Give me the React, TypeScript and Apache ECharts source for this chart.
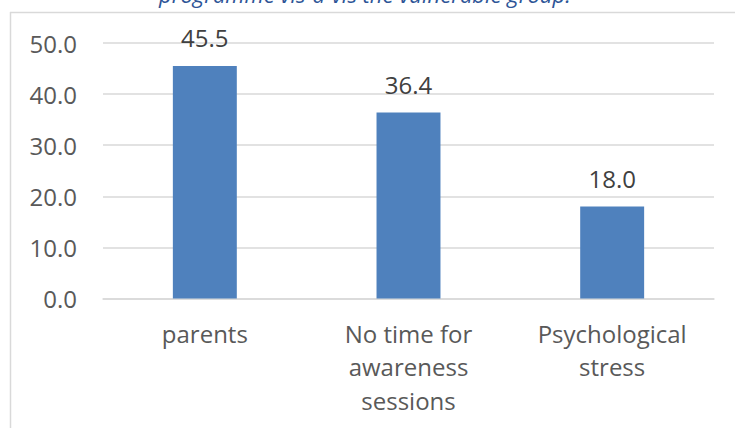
import React, { useEffect, useRef } from "react";
import * as echarts from "echarts";

const categories = ["parents", "No time for\nawareness\nsessions", "Psychological\nstress"];
const values = [45.5, 36.4, 18.0];
const yTicks = { min: 0, max: 50, interval: 10 };
const titleText = "programme vis-à-vis the vulnerable group.";

const FONT = "'Open Sans', 'Noto Sans', sans-serif";

export default function App() {
  const ref = useRef<HTMLDivElement>(null);

  useEffect(() => {
    if (!ref.current) return;
    const chart = echarts.init(ref.current, undefined, { renderer: "svg" });
    chart.setOption({
      animation: false,
      backgroundColor: "#ffffff",
      grid: { left: 103, right: 21, top: 43, bottom: 129.5, containLabel: false },
      xAxis: {
        type: "category",
        data: categories,
        axisLine: { show: true, lineStyle: { color: "#D9D9D9", width: 1.5 } },
        axisTick: { show: false },
        axisLabel: {
          color: "#595959",
          fontFamily: FONT,
          fontSize: 24,
          lineHeight: 33.5,
          margin: 18,
          interval: 0,
        },
      },
      yAxis: {
        type: "value",
        min: yTicks.min,
        max: yTicks.max,
        interval: yTicks.interval,
        axisLine: { show: false },
        axisTick: { show: false },
        splitLine: { lineStyle: { color: "#D9D9D9", width: 1.5 } },
        axisLabel: {
          color: "#595959",
          fontFamily: FONT,
          fontSize: 24,
          margin: 26,
          formatter: (v: number) => v.toFixed(1),
        },
      },
      series: [
        {
          type: "bar",
          data: values,
          barWidth: "31.4%",
          itemStyle: { color: "#4F81BD" },
          label: {
            show: true,
            position: "top",
            distance: 16,
            color: "#404040",
            fontFamily: FONT,
            fontSize: 24,
            formatter: (p: any) => Number(p.value).toFixed(1),
          },
        },
      ],
      graphic: [
        {
          type: "text",
          x: 159,
          y: 5,
          style: {
            text: titleText,
            fill: "#2E5597",
            font: `italic 22px ${FONT}`,
            verticalAlign: "bottom",
            align: "left",
          },
        },
        {
          type: "line",
          shape: { x1: 10, y1: 12.5, x2: 735, y2: 12.5 },
          style: { stroke: "#D9D9D9", lineWidth: 1.5 },
        },
        {
          type: "line",
          shape: { x1: 10.5, y1: 12, x2: 10.5, y2: 428 },
          style: { stroke: "#D9D9D9", lineWidth: 1.5 },
        },
      ],
    });
    return () => chart.dispose();
  }, []);

  return (
    <div
      ref={ref}
      style={{ position: "fixed", left: 0, top: 0, width: 735, height: 428 }}
    />
  );
}
